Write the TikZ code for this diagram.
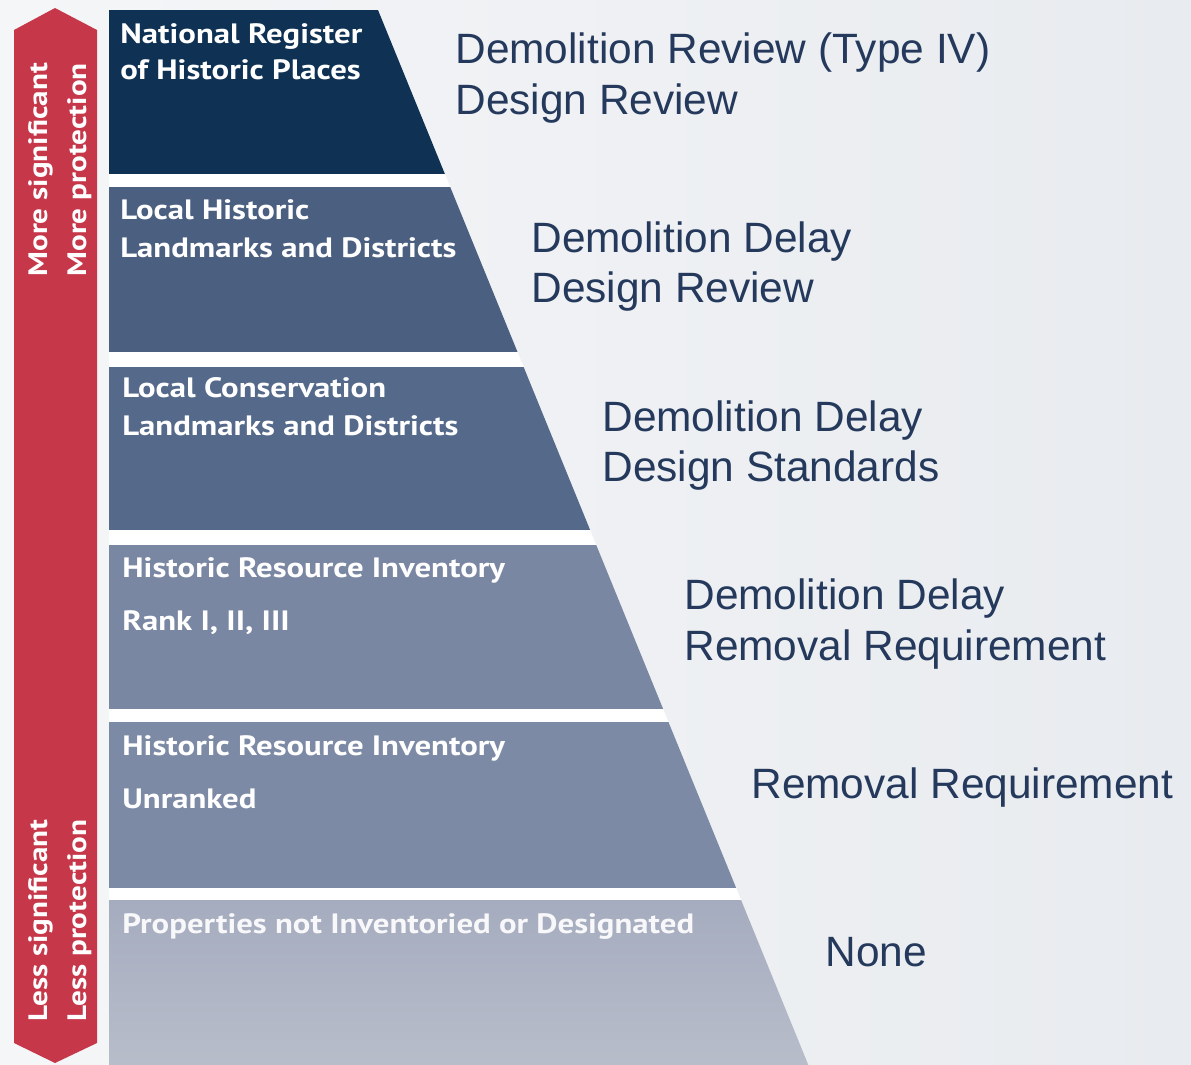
\documentclass[tikz,border=0pt]{standalone}
\usepackage{fontspec}
\setmainfont{Liberation Sans}
\newfontfamily\bandfont{PT Sans}[FakeStretch=1.17]

\definecolor{bgleft}{HTML}{F5F6F8}
\definecolor{bgright}{HTML}{E8EBEF}
\definecolor{sidered}{HTML}{C6374A}
\definecolor{tierA}{HTML}{0E3154}
\definecolor{tierB}{HTML}{4B5F81}
\definecolor{tierC}{HTML}{55698A}
\definecolor{tierD}{HTML}{7A87A3}
\definecolor{tierE}{HTML}{7D8AA5}
\definecolor{tierFtop}{HTML}{A5ACBF}
\definecolor{tierFbot}{HTML}{B8BDCA}
\definecolor{listblue}{HTML}{24395B}

\begin{document}
\begin{tikzpicture}[x=0.5pt,y=-0.5pt,
  bandtext/.style={text=white, font=\bandfont\bfseries\fontsize{14}{16}\selectfont,
                   anchor=base west, inner sep=0pt},
  sidetext/.style={bandtext, font=\bandfont\bfseries\fontsize{13.3}{16}\selectfont, rotate=90},
  listtext/.style={text=listblue, font=\fontsize{21.2}{25}\selectfont,
                   anchor=base west, inner sep=0pt}]
\useasboundingbox (0,0) rectangle (1191,1065);

% page background
\shade[left color=bgleft, right color=bgright] (0,0) rectangle (1191,1065);

% red significance arrow (double-pointed bar)
\fill[sidered] (14,30) -- (55,8) -- (97,30) -- (97,1043) -- (55,1063) -- (14,1043) -- cycle;

% stepped pyramid: white body, coloured tiers clipped to the slanted edge
\fill[white] (109,10) -- (378,10) -- (808.4,1065) -- (109,1065) -- cycle;
\begin{scope}
  \clip (109,10) -- (378,10) -- (808.4,1065) -- (109,1065) -- cycle;
  \fill[tierA] (109,10)  rectangle (900,174);
  \fill[tierB] (109,187) rectangle (900,352);
  \fill[tierC] (109,367) rectangle (900,530);
  \fill[tierD] (109,545) rectangle (900,709);
  \fill[tierE] (109,722) rectangle (900,888);
  \shade[top color=tierFtop, bottom color=tierFbot] (109,900) rectangle (900,1065);
\end{scope}

% tier labels
\node[bandtext] (t1a) at (120,44)  {National Register};
\node[bandtext] (t1b) at (120,80)  {of Historic Places};
\node[bandtext] (t2a) at (120,220) {Local Historic};
\node[bandtext] (t2b) at (120,257) {Landmarks and Districts};
\node[bandtext] (t3a) at (122,398) {Local Conservation};
\node[bandtext] (t3b) at (122,436) {Landmarks and Districts};
\node[bandtext] (t4a) at (122,577) {Historic Resource Inventory};
\node[bandtext] (t4b) at (122,630) {Rank I, II, III};
\node[bandtext] (t5a) at (122,755) {Historic Resource Inventory};
\node[bandtext] (t5b) at (122,808) {Unranked};
\node[bandtext, text=white!92!tierFtop] (t6a) at (122,933) {Properties not Inventoried or Designated};

% labels on the red bar
\node[sidetext] (moreA) at (47,277)  {More significant};
\node[sidetext] (moreB) at (86,277)  {More protection};
\node[sidetext] (lessA) at (47,1022) {Less significant};
\node[sidetext] (lessB) at (86,1022) {Less protection};

% protection measures for each tier
\node[listtext] (r1a) at (455,64)  {Demolition Review (Type IV)};
\node[listtext] (r1b) at (455,115) {Design Review};
\node[listtext] (r2a) at (531,253) {Demolition Delay};
\node[listtext] (r2b) at (531,303) {Design Review};
\node[listtext] (r3a) at (602,431) {Demolition Delay};
\node[listtext] (r3b) at (602,481) {Design Standards};
\node[listtext] (r4a) at (684,609) {Demolition Delay};
\node[listtext] (r4b) at (684,660) {Removal Requirement};
\node[listtext] (r5a) at (751,798) {Removal Requirement};
\node[listtext] (r6a) at (825,966) {None};
\end{tikzpicture}
\end{document}
